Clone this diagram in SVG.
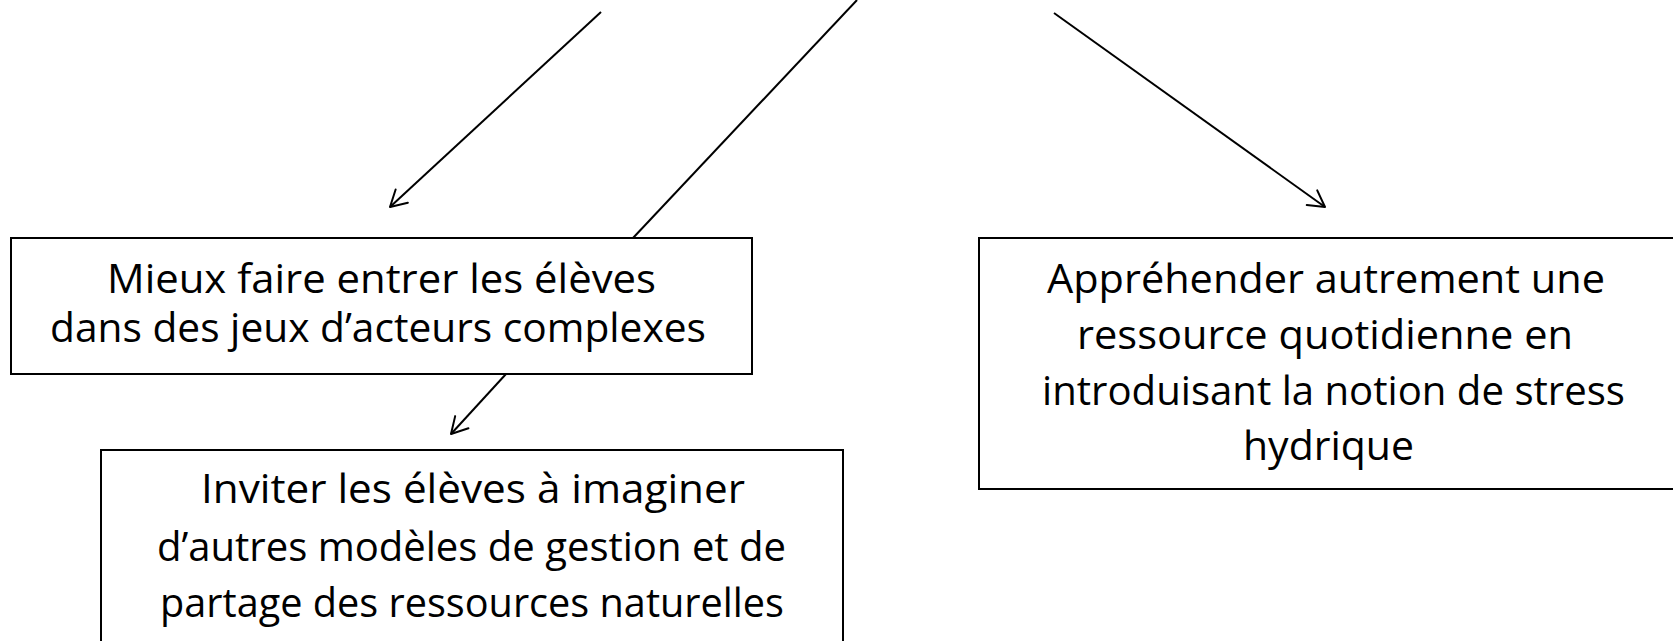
<svg xmlns="http://www.w3.org/2000/svg" width="1673" height="641" viewBox="0 0 1673 641">
  <style>
    .box { fill: #ffffff; stroke: #000000; stroke-width: 2; }
    .lbl { font-family: "Open Sans", Lato, "Liberation Sans", sans-serif; font-size: 41px; fill: #000000; }
    .conn { stroke: #000000; stroke-width: 2; fill: none; }
  </style>
  <defs>
    <marker id="arr" markerUnits="userSpaceOnUse" orient="auto" markerWidth="24" markerHeight="24" viewBox="-20 -12 24 24" refX="0" refY="0" overflow="visible">
      <path d="M -16,-9 L 0,0 L -16,9" fill="none" stroke="#000000" stroke-width="2" stroke-linecap="round" stroke-linejoin="round"/>
    </marker>
  </defs>
  <rect width="1673" height="641" fill="#ffffff"/>

  <g id="node-mieux">
    <rect class="box" x="11" y="238" width="741" height="136"/>
    <text class="lbl" x="107" y="293" textLength="549" lengthAdjust="spacingAndGlyphs">Mieux faire entrer les élèves</text>
    <text class="lbl" x="50" y="342" textLength="656" lengthAdjust="spacingAndGlyphs">dans des jeux d’acteurs complexes</text>
  </g>

  <g id="node-inviter">
    <rect class="box" x="101" y="450" width="742" height="220"/>
    <text class="lbl" x="201" y="503" textLength="544" lengthAdjust="spacingAndGlyphs">Inviter les élèves à imaginer</text>
    <text class="lbl" x="157" y="561" textLength="629" lengthAdjust="spacingAndGlyphs">d’autres modèles de gestion et de</text>
    <text class="lbl" x="160" y="617" textLength="624" lengthAdjust="spacingAndGlyphs">partage des ressources naturelles</text>
  </g>

  <g id="node-apprehender">
    <rect class="box" x="979" y="238" width="700" height="251"/>
    <text class="lbl" x="1047" y="293" textLength="558" lengthAdjust="spacingAndGlyphs">Appréhender autrement une</text>
    <text class="lbl" x="1077" y="349" textLength="496" lengthAdjust="spacingAndGlyphs">ressource quotidienne en</text>
    <text class="lbl" x="1042" y="405" textLength="583" lengthAdjust="spacingAndGlyphs">introduisant la notion de stress</text>
    <text class="lbl" x="1243" y="460" textLength="171" lengthAdjust="spacingAndGlyphs">hydrique</text>
  </g>

  <g id="connectors">
    <line class="conn" x1="601" y1="12" x2="390" y2="207" marker-end="url(#arr)"/>
    <line class="conn" x1="857" y1="0" x2="633" y2="238"/>
    <line class="conn" x1="1054" y1="13" x2="1325" y2="207" marker-end="url(#arr)"/>
    <line class="conn" x1="506" y1="374" x2="451" y2="434" marker-end="url(#arr)"/>
  </g>
</svg>
